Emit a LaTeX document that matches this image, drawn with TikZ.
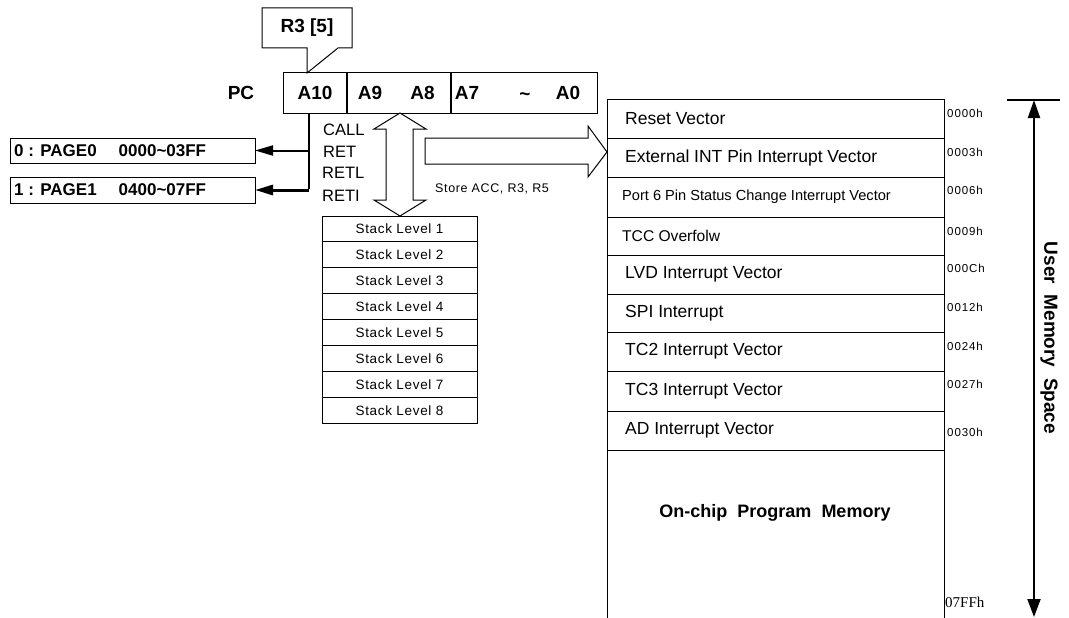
\documentclass[tikz,border=0pt]{standalone}
\usepackage{fontspec}
\setmainfont{Liberation Sans}
\newfontfamily\serifaddr{Liberation Serif}
\newfontfamily\spacedfont[LetterSpace=5]{Liberation Sans}
\newfontfamily\addrfont[LetterSpace=8]{Liberation Sans}
\usetikzlibrary{arrows.meta}
\begin{document}
\begin{tikzpicture}[x=1pt,y=-1pt,line join=miter,
  bx/.style={draw, line width=1pt, inner sep=0pt, outer sep=0pt, anchor=north west},
  lab/.style={inner sep=0pt, anchor=west},
  pcf/.style={font=\fontsize{19}{22}\selectfont\bfseries, inner sep=0pt},
  pgf/.style={font=\fontsize{17}{20}\selectfont\bfseries},
  instr/.style={lab, font=\fontsize{16.5}{19}\selectfont},
  stk/.style={font=\spacedfont\fontsize{13.5}{16}\selectfont},
  memf/.style={lab, font=\fontsize{17.5}{20}\selectfont},
  addr/.style={lab, font=\addrfont\fontsize{11.5}{13}\selectfont},
  hollow/.style={draw, line width=1pt, fill=white},
  tri/.style={-{Triangle[length=18pt,width=10pt]}}
]
\useasboundingbox (0,0) rectangle (1069,618);

% R3 [5] callout
\draw[line width=1pt] (262,8) -- (352,8) -- (352,48) -- (338,48) -- (307,73) -- (307,48) -- (262,48) -- cycle;
\node[pcf] (r3) at (307,28) {R3 [5]};

% PC register
\node[pcf] (pc) at (241,93) {PC};
\node[bx, minimum width=64pt, minimum height=40pt] (c1) at (283,73) {};
\node[bx, minimum width=104pt, minimum height=40pt] (c2) at (347,73) {};
\node[bx, minimum width=146pt, minimum height=40pt] (c3) at (451,73) {};
\draw[line width=2.4pt] (c2.north west) -- (c2.south west);
\draw[line width=2.4pt] (c3.north west) -- (c3.south west);
\node[pcf] (a10) at (315,93) {A10};
\node[pcf] (a9) at (370,93) {A9};
\node[pcf] (a8) at (422.5,93) {A8};
\node[pcf] (a7) at (467,93) {A7};
\node[pcf] (til) at (525,97) {\textasciitilde};
\node[pcf] (a0) at (568,93) {A0};

% page boxes
\node[bx, minimum width=245pt, minimum height=25pt] (p0) at (10,138) {};
\node[bx, minimum width=245pt, minimum height=26pt] (p1) at (10,177) {};
\node[lab, pgf] (p0t) at ([xshift=4pt]p0.west) {0 : PAGE0\hspace{22pt}0000\textasciitilde03FF};
\node[lab, pgf] (p1t) at ([xshift=4pt]p1.west) {1 : PAGE1\hspace{22pt}0400\textasciitilde07FF};

\coordinate (pcdn) at (309,113);
\draw[line width=2.5pt] (pcdn) -- ([yshift=1.2pt]pcdn |- p1.east);
\draw[line width=2pt, tri] (pcdn |- p0.east) -- (p0.east);
\draw[line width=3pt, tri] (pcdn |- p1.east) -- (p1.east);

% instructions
\node[instr] (call) at (323,130) {CALL};
\node[instr] (ret) at (323,152) {RET};
\node[instr] (retl) at (322,173) {RETL};
\node[instr] (reti) at (322,196) {RETI};

% stack
\foreach \i in {1,...,8}
  \node[bx, stk, minimum width=155pt, minimum height=25.9pt] (s\i) at (322,{216+25.9*(\i-1)}) {Stack Level \i};

% hollow double arrow
\draw[hollow] (400,113) -- (426,129) -- (413,129) -- (413,200) -- (426,200) -- (400,216)
  -- (374,200) -- (386,200) -- (386,129) -- (374,129) -- cycle;
% hollow right arrow
\draw[hollow] (425,138) -- (588,138) -- (588,126) -- (607,152) -- (588,177) -- (588,164) -- (425,164) -- cycle;
\node[lab, font=\spacedfont\fontsize{12.5}{15}\selectfont] (store) at (435,189) {Store ACC, R3, R5};

% memory map
\node[bx, minimum width=337pt, minimum height=38pt] (m1) at (607,100) {};
\node[bx, minimum width=337pt, minimum height=39pt] (m2) at (607,138) {};
\node[bx, minimum width=337pt, minimum height=40pt] (m3) at (607,177) {};
\node[bx, minimum width=337pt, minimum height=38pt] (m4) at (607,217) {};
\node[bx, minimum width=337pt, minimum height=39pt] (m5) at (607,255) {};
\node[bx, minimum width=337pt, minimum height=38pt] (m6) at (607,294) {};
\node[bx, minimum width=337pt, minimum height=39pt] (m7) at (607,332) {};
\node[bx, minimum width=337pt, minimum height=40pt] (m8) at (607,371) {};
\node[bx, minimum width=337pt, minimum height=39pt] (m9) at (607,411) {};
\draw[line width=1pt] (m9.south west) -- (607,618);
\draw[line width=1pt] (m9.south east) -- (944,618);

\node[memf] at ([xshift=18pt]m1.west) {Reset Vector};
\node[memf] at ([xshift=18pt]m2.west) {External INT Pin Interrupt Vector};
\node[lab, font=\fontsize{14.6}{17}\selectfont] at ([xshift=15pt]m3.west) {Port 6 Pin Status Change Interrupt Vector};
\node[lab, font=\fontsize{15.6}{18}\selectfont] at ([xshift=15pt]m4.west) {TCC Overfolw};
\node[memf] at ([xshift=18pt]m5.west) {LVD Interrupt Vector};
\node[memf] at ([xshift=18pt]m6.west) {SPI Interrupt};
\node[memf] at ([xshift=18pt]m7.west) {TC2 Interrupt Vector};
\node[memf] at ([xshift=18pt]m8.west) {TC3 Interrupt Vector};
\node[memf] at ([xshift=18pt]m9.west) {AD Interrupt Vector};
\node[font=\fontsize{18}{21}\selectfont\bfseries] (onchip) at (775,513) {On-chip\ \ Program\ \ Memory};

% addresses
\node[addr] at (947,113) {0000h};
\node[addr] at (947,152) {0003h};
\node[addr] at (947,190) {0006h};
\node[addr] at (947,231) {0009h};
\node[addr] at (947,268) {000Ch};
\node[addr] at (947,307) {0012h};
\node[addr] at (947,346) {0024h};
\node[addr] at (947,384) {0027h};
\node[addr] at (947,432) {0030h};
\node[lab, font=\serifaddr\fontsize{15}{17}\selectfont] at (945,602) {07FFh};

% user memory space arrow
\coordinate (utop) at (1034,100);
\coordinate (ubot) at (1034,617);
\draw[line width=1.5pt] (1007,100) -- (1060,100);
\draw[line width=2pt, {Triangle[length=18pt,width=12pt]}-{Triangle[length=18pt,width=13pt]}] (utop) -- (ubot);
\node[rotate=-90, font=\fontsize{19}{22}\selectfont\bfseries] (ums) at (1049,338) {User\ \ Memory\ \ Space};
\end{tikzpicture}
\end{document}
